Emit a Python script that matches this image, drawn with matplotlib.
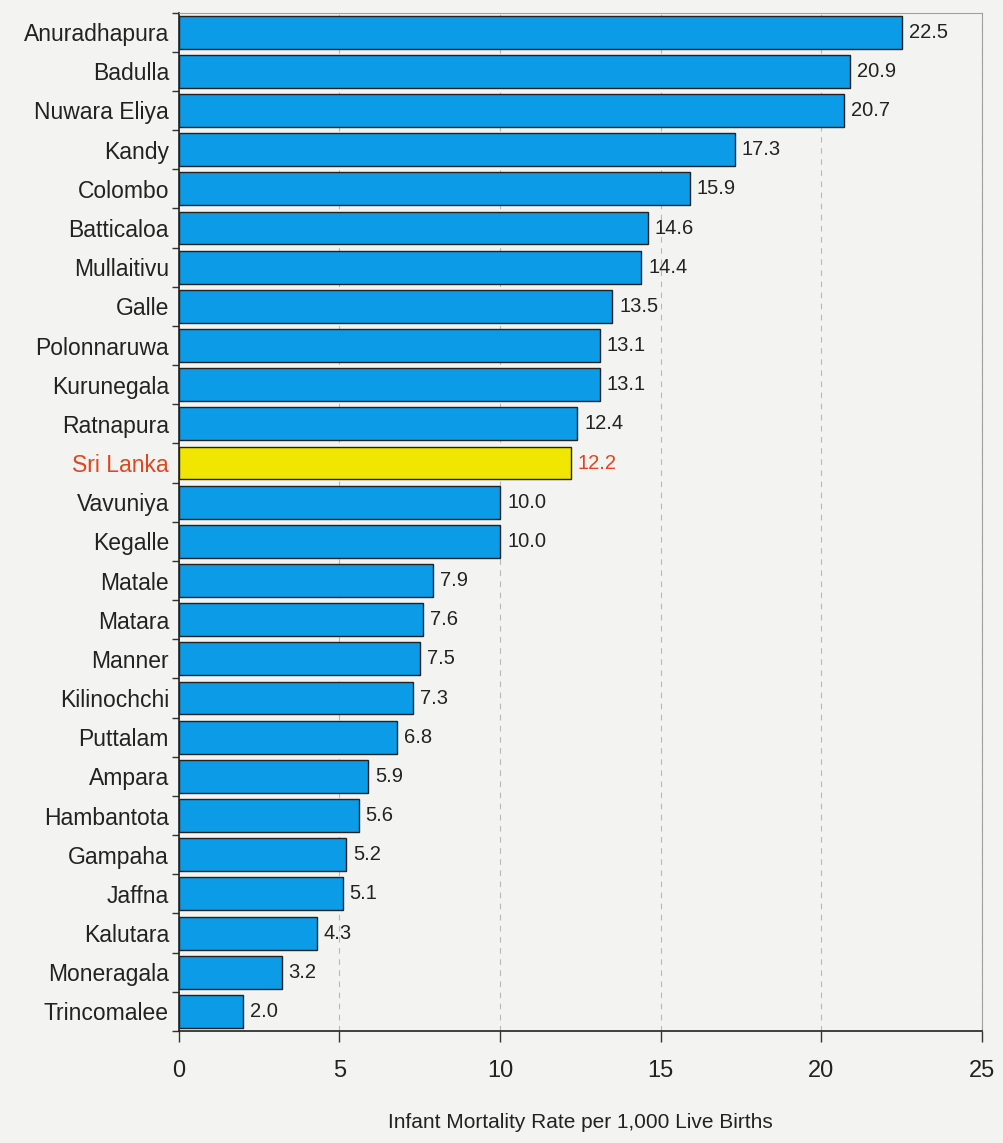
import matplotlib
matplotlib.use("Agg")
import matplotlib.pyplot as plt
import numpy as np

districts = ["Anuradhapura", "Badulla", "Nuwara Eliya", "Kandy", "Colombo", "Batticaloa",
             "Mullaitivu", "Galle", "Polonnaruwa", "Kurunegala", "Ratnapura", "Sri Lanka",
             "Vavuniya", "Kegalle", "Matale", "Matara", "Manner", "Kilinochchi", "Puttalam",
             "Ampara", "Hambantota", "Gampaha", "Jaffna", "Kalutara", "Moneragala", "Trincomalee"]
rates = [22.5, 20.9, 20.7, 17.3, 15.9, 14.6, 14.4, 13.5, 13.1, 13.1, 12.4, 12.2,
         10.0, 10.0, 7.9, 7.6, 7.5, 7.3, 6.8, 5.9, 5.6, 5.2, 5.1, 4.3, 3.2, 2.0]
highlight = "Sri Lanka"
xticks = [0, 5, 10, 15, 20, 25]
xlabel = "Infant Mortality Rate per 1,000 Live Births"

plt.rcParams['font.family'] = ['Liberation Sans', 'DejaVu Sans']
bg = "#f3f3f2"
fig = plt.figure(figsize=(10.04, 11.43), dpi=100, facecolor=bg)
ax = fig.add_axes([0.178, 0.098, 0.800, 0.891])
ax.set_facecolor(bg)

n = len(districts)
y = np.arange(n)
blue = "#0c9be6"
yellow = "#f0e600"
red = "#e2451c"
colors = [yellow if d == highlight else blue for d in districts]
ax.barh(y, rates, height=0.84, color=colors, edgecolor="#222222", linewidth=1.0, zorder=3)

for yi, v, d in zip(y, rates, districts):
    ax.text(v + 0.22, yi, f"{v:.1f}", va="center", ha="left", fontsize=14.5,
            color=red if d == highlight else "#222222", zorder=4)

ax.set_ylim(n - 0.5, -0.5)
ax.set_xlim(0, 25)
ax.set_yticks(y)
ax.set_yticklabels(districts, fontsize=16.5)
for lbl, d in zip(ax.get_yticklabels(), districts):
    lbl.set_color(red if d == highlight else "#222222")
ax.tick_params(axis="y", length=0, pad=7)
ax.set_yticks(np.arange(-0.5, n, 1.0), minor=True)
ax.tick_params(axis="y", which="minor", length=5, width=1, color="#333333")

ax.set_xticks(xticks)
ax.set_xticklabels([str(t) for t in xticks], fontsize=17, color="#222222")
ax.tick_params(axis="x", length=8, width=1, color="#333333", pad=13)
ax.set_xlabel(xlabel, fontsize=15, color="#222222", labelpad=22)

ax.grid(axis="x", linestyle=(0, (5, 5)), color="#b8b8b8", linewidth=0.8, zorder=0)

ax.spines["left"].set_color("#222222")
ax.spines["bottom"].set_color("#222222")
ax.spines["left"].set_linewidth(1.2)
ax.spines["bottom"].set_linewidth(1.2)
ax.spines["top"].set_color("#a0a0a0")
ax.spines["right"].set_color("#a0a0a0")
ax.spines["top"].set_linewidth(0.8)
ax.spines["right"].set_linewidth(0.8)

fig.savefig("out.png", dpi=100, facecolor=bg)
